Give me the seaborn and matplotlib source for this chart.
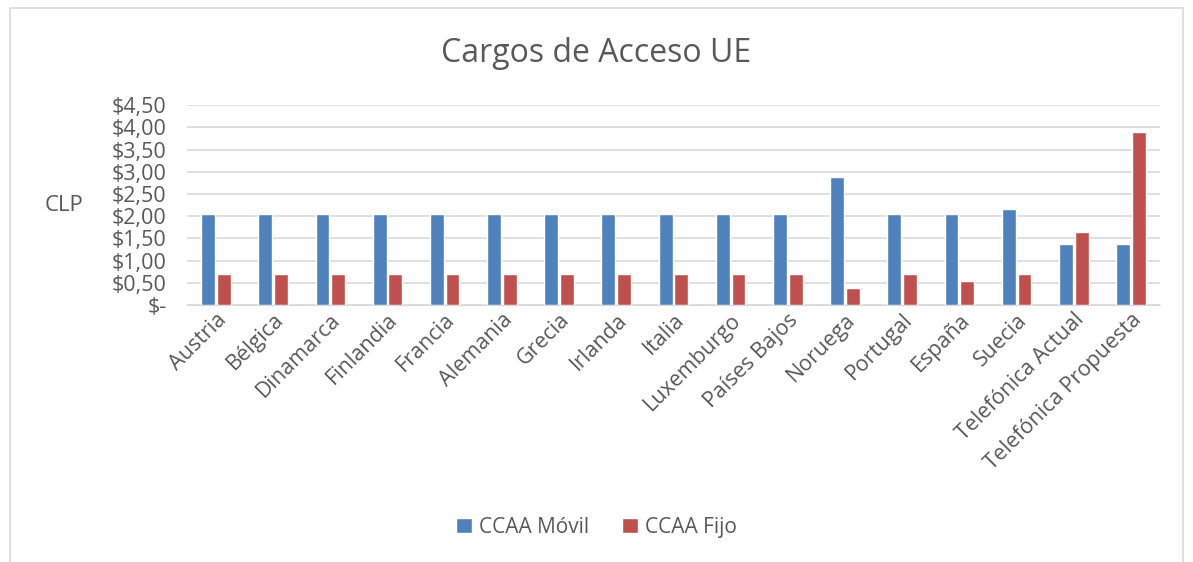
import matplotlib
import numpy as np
import pandas as pd
import seaborn as sns

matplotlib.use("Agg")
import matplotlib.pyplot as plt
from matplotlib.patches import Rectangle
from matplotlib.ticker import FuncFormatter

paises = [
    "Austria", "Bélgica", "Dinamarca", "Finlandia", "Francia", "Alemania",
    "Grecia", "Irlanda", "Italia", "Luxemburgo", "Países Bajos", "Noruega",
    "Portugal", "España", "Suecia", "Telefónica Actual", "Telefónica Propuesta",
]
ccaa_movil = [2.05, 2.05, 2.05, 2.05, 2.05, 2.05, 2.05, 2.05, 2.05, 2.05,
              2.05, 2.88, 2.05, 2.05, 2.16, 1.37, 1.37]
ccaa_fijo = [0.70, 0.70, 0.70, 0.70, 0.70, 0.70, 0.70, 0.70, 0.70, 0.70,
             0.70, 0.38, 0.70, 0.54, 0.70, 1.64, 3.90]
series = ["CCAA Móvil", "CCAA Fijo"]
colores = ["#4F81BD", "#C0504D"]

df = pd.DataFrame({
    "pais": paises * 2,
    "valor": ccaa_movil + ccaa_fijo,
    "serie": [series[0]] * len(paises) + [series[1]] * len(paises),
})

sns.set_style("white")
plt.rcParams["font.family"] = ["Open Sans", "DejaVu Sans"]
gris = "#595959"

fig = plt.figure(figsize=(11.93, 5.62), dpi=100)
ax = fig.add_axes([0.157, 0.457, 0.815, 0.356])

sns.barplot(data=df, x="pais", y="valor", hue="serie", palette=colores,
            saturation=1, width=0.55, gap=0.12, ax=ax, legend=True)

ax.set_ylim(0, 4.5)
ax.set_yticks(np.arange(0, 4.51, 0.5))
ax.yaxis.set_major_formatter(FuncFormatter(
    lambda v, _: "$-" if v == 0 else ("$%.2f" % v).replace(".", ",")))
ax.grid(axis="y", color="#d9d9d9", linewidth=1.2)
ax.set_axisbelow(True)
for s in ["top", "right", "left"]:
    ax.spines[s].set_visible(False)
ax.spines["bottom"].set_color("#d9d9d9")
ax.tick_params(axis="both", length=0, labelsize=15.5, colors=gris)
ax.tick_params(axis="y", pad=15)
ax.tick_params(axis="x", pad=3)
plt.setp(ax.get_xticklabels(), rotation=45, ha="right", rotation_mode="anchor")
ax.set_xlabel("")
ax.set_ylabel("CLP", rotation=0, fontsize=16, color=gris, labelpad=34, va="center")

fig.suptitle("Cargos de Acceso UE", y=0.935, fontsize=23, color=gris)

handles, labels = ax.get_legend_handles_labels()
ax.get_legend().remove()
fig.legend(handles, labels, loc="center", bbox_to_anchor=(0.5, 0.062), ncol=2,
           frameon=False, fontsize=15, labelcolor=gris, handlelength=0.75,
           handleheight=0.75, handletextpad=0.35, columnspacing=1.6)

fig.patches.append(Rectangle((0.008, -0.01), 0.984, 0.996, transform=fig.transFigure,
                             fill=False, edgecolor="#d9d9d9", linewidth=1.2))

fig.savefig("out.png", dpi=100)
